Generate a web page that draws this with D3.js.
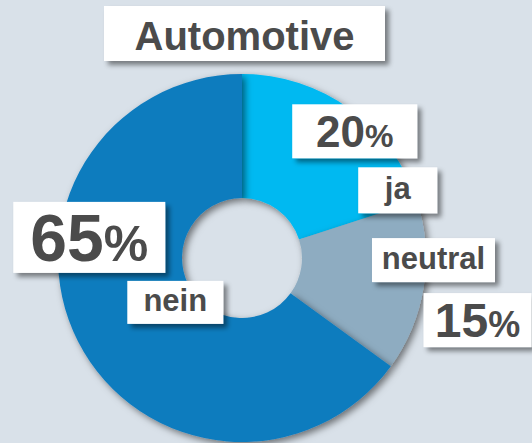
<!DOCTYPE html>
<html>
<head>
<meta charset="utf-8">
<script src="https://cdn.jsdelivr.net/npm/d3@7/dist/d3.min.js"></script>
<style>
  html, body { margin: 0; padding: 0; background: #d9e1e9; }
  svg { display: block; }
  text { font-family: Arial, "Liberation Sans", sans-serif; font-weight: 700; fill: #4b4b4b; }
</style>
</head>
<body>
<script>
// ---- data ----
const title = "Automotive";
const categories = ["ja", "neutral", "nein"];
const values = [20, 15, 65];
const colors = ["#00b9f1", "#8eacc1", "#0f7bbe"];

// ---- layout (styling, not data) ----
const W = 532, H = 443;
const cx = 242, cy = 258, rOuter = 184, rInner = 60;
// offsets of label boxes from each slice centroid
const pctLayout = [
  { dx: 41, dy: -28, w: 125, h: 54, num: 44, pct: 32 },
  { dx: 115, dy: 43, w: 108, h: 54, num: 48, pct: 36 },
  { dx: -44, dy: -76, w: 152, h: 71, num: 66, pct: 50 }
];
const catLayout = [
  { dx: 84, dy: 31, w: 79, h: 46 },
  { dx: 71, dy: -17, w: 123, h: 44 },
  { dx: 42, dy: -11, w: 96, h: 43 }
];
const labelSize = 31;

const svg = d3.select("body").append("svg")
  .attr("width", W).attr("height", H);

const defs = svg.append("defs");
const f1 = defs.append("filter").attr("id", "sliceShadow")
  .attr("x", "-30%").attr("y", "-30%").attr("width", "160%").attr("height", "160%");
f1.append("feDropShadow").attr("dx", 3).attr("dy", 3).attr("stdDeviation", 3.5)
  .attr("flood-color", "#000").attr("flood-opacity", 0.5);
const f2 = defs.append("filter").attr("id", "boxShadow")
  .attr("x", "-30%").attr("y", "-30%").attr("width", "160%").attr("height", "160%");
f2.append("feDropShadow").attr("dx", 4).attr("dy", 4).attr("stdDeviation", 2.5)
  .attr("flood-color", "#000").attr("flood-opacity", 0.45);

svg.append("rect").attr("width", W).attr("height", H).attr("fill", "#d9e1e9");

const data = categories.map((c, i) => ({ cat: c, value: values[i], color: colors[i], i }));
const pie = d3.pie().value(d => d.value).sort(null);
const arcs = pie(data);
const arc = d3.arc().innerRadius(rInner).outerRadius(rOuter);

const g = svg.append("g").attr("transform", `translate(${cx},${cy})`);
g.selectAll("path.slice").data(arcs).join("path")
  .attr("class", "slice")
  .attr("d", arc)
  .attr("fill", d => d.data.color)
  .attr("filter", "url(#sliceShadow)");

// ---- title ----
const tg = svg.append("g");
tg.append("rect").attr("x", 104).attr("y", 6).attr("width", 281).attr("height", 55)
  .attr("fill", "#fff").attr("filter", "url(#boxShadow)");
tg.append("text").attr("x", 244.5).attr("y", 50).attr("text-anchor", "middle")
  .style("font-size", "40px").text(title);

// ---- labels ----
function box(x, y, w, h) {
  svg.append("rect").attr("x", x - w / 2).attr("y", y - h / 2)
    .attr("width", w).attr("height", h)
    .attr("fill", "#fff").attr("filter", "url(#boxShadow)");
}

arcs.forEach((a, i) => {
  const [mx, my] = arc.centroid(a);
  const pl = pctLayout[i], cl = catLayout[i];
  // percentage box
  const px = cx + mx + pl.dx, py = cy + my + pl.dy;
  box(px, py, pl.w, pl.h);
  const t = svg.append("text").attr("x", px).attr("y", py + pl.num * 0.716 / 2)
    .attr("text-anchor", "middle");
  t.append("tspan").style("font-size", pl.num + "px").text(a.data.value);
  t.append("tspan").style("font-size", pl.pct + "px").text("%");
  // category box
  const lx = cx + mx + cl.dx, ly = cy + my + cl.dy;
  box(lx, ly, cl.w, cl.h);
  svg.append("text").attr("x", lx).attr("y", ly + 9)
    .attr("text-anchor", "middle").style("font-size", labelSize + "px")
    .text(a.data.cat);
});
</script>
</body>
</html>
